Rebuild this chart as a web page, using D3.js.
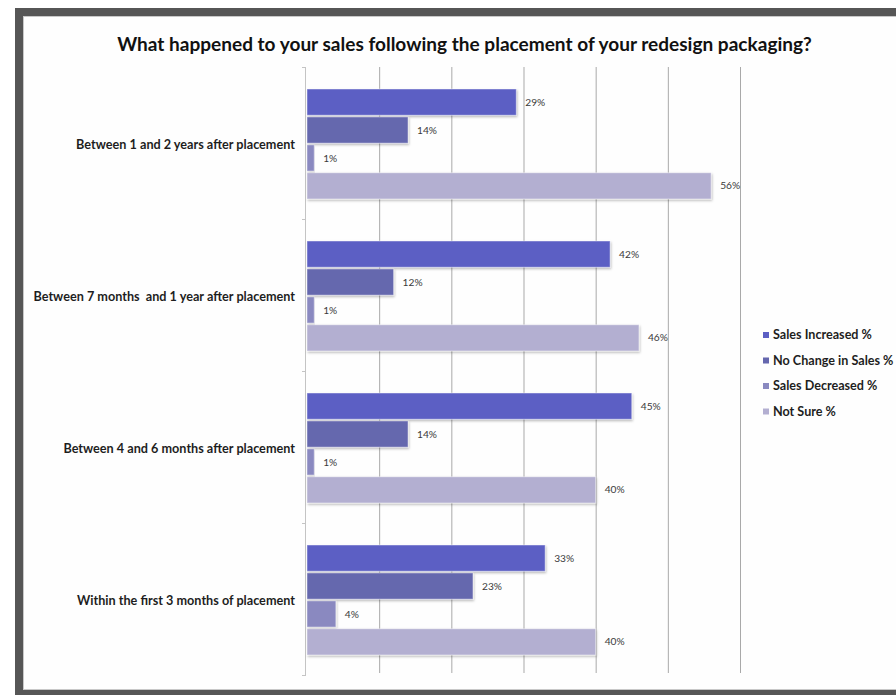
<!DOCTYPE html>
<html>
<head>
<meta charset="utf-8">
<script src="https://cdn.jsdelivr.net/npm/d3@7/dist/d3.min.js"></script>
<style>
  html, body { margin: 0; padding: 0; background: #fff; }
  svg { display: block; }
  text { font-family: Lato, "Open Sans", "DejaVu Sans", sans-serif; }
</style>
</head>
<body>
<svg id="chart" width="896" height="695"></svg>
<script>
// ---- data ----
const title = "What happened to your sales following the placement of your redesign packaging?";
const categories = [
  "Between 1 and 2 years after placement",
  "Between 7 months  and 1 year after placement",
  "Between 4 and 6 months after placement",
  "Within the first 3 months of placement"
];
const seriesNames = ["Sales Increased %", "No Change in Sales %", "Sales Decreased %", "Not Sure %"];
const salesIncreased = [29, 42, 45, 33];
const noChange = [14, 12, 14, 23];
const salesDecreased = [1, 1, 1, 4];
const notSure = [56, 46, 40, 40];
const xTicks = [0, 10, 20, 30, 40, 50, 60];
const seriesColors = ["#5c5fc4", "#6567ae", "#8a89c0", "#b3afd1"];

const seriesValues = [salesIncreased, noChange, salesDecreased, notSure];

const svg = d3.select("#chart");
const W = 896, H = 695;

// ---- frame ----
svg.append("rect").attr("x", 0).attr("y", 0).attr("width", W).attr("height", H).attr("fill", "#fff");
svg.append("rect").attr("x", 15).attr("y", 8).attr("width", W + 20).attr("height", H).attr("fill", "#565656");
svg.append("rect").attr("x", 23).attr("y", 16).attr("width", W + 20).attr("height", 674).attr("fill", "#c8c8c8");
svg.append("rect").attr("x", 24).attr("y", 17).attr("width", W + 20).attr("height", 672).attr("fill", "#fefefe");

// ---- defs ----
const defs = svg.append("defs");
const f = defs.append("filter").attr("id", "shadow").attr("x", "-5%").attr("y", "-20%").attr("width", "115%").attr("height", "160%");
f.append("feDropShadow").attr("dx", 0.8).attr("dy", 1.5).attr("stdDeviation", 0.8)
  .attr("flood-color", "#000").attr("flood-opacity", 0.28);

// ---- scales ----
const x = d3.scaleLinear().domain([0, 60]).range([307, 740]);
const y = d3.scaleBand().domain(categories).range([67, 675]);
const yInner = d3.scaleBand().domain(seriesNames).range([22, 132]).paddingInner(0.06);

// ---- gridlines ----
const grid = svg.append("g");
grid.selectAll("line.grid").data(xTicks.slice(1)).join("line")
  .attr("class", "grid")
  .attr("x1", d => x(d) + 0.5).attr("x2", d => x(d) + 0.5)
  .attr("y1", 67).attr("y2", 673)
  .attr("stroke", "#a9a9a9").attr("stroke-width", 1);

// ---- y axis ----
const yAxis = d3.axisLeft(y).tickSize(0).tickFormat("");
const ya = svg.append("g").attr("transform", `translate(${x(0) - 1.5},0)`).call(yAxis);
ya.select(".domain").attr("stroke", "#c4c4c4").attr("d", `M0,67V675`);
// boundary ticks between categories
const boundaries = categories.map(c => y(c)).concat([y.range()[1]]);
svg.append("g").selectAll("line").data(boundaries).join("line")
  .attr("x1", x(0) - 5).attr("x2", x(0) - 1)
  .attr("y1", d => d + 0.5).attr("y2", d => d + 0.5)
  .attr("stroke", "#c4c4c4");

// ---- bars ----
const groups = svg.append("g").selectAll("g").data(categories).join("g")
  .attr("transform", c => `translate(0,${y(c)})`);

groups.each(function(c, ci) {
  const g = d3.select(this);
  const rows = seriesNames.map((s, si) => ({ s, si, v: seriesValues[si][ci] }));
  g.selectAll("rect").data(rows).join("rect")
    .attr("x", x(0))
    .attr("y", d => yInner(d.s))
    .attr("width", d => x(d.v) - x(0))
    .attr("height", yInner.bandwidth())
    .attr("fill", d => seriesColors[d.si])
    .attr("stroke", "rgba(255,255,255,0.45)")
    .attr("stroke-width", 1)
    .attr("filter", "url(#shadow)");
  g.selectAll("text.val").data(rows).join("text")
    .attr("class", "val")
    .attr("x", d => x(d.v) + 9)
    .attr("y", d => yInner(d.s) + yInner.bandwidth() / 2)
    .attr("dy", "0.35em")
    .attr("font-size", 9)
    .attr("fill", "#3a3a3a")
    .text(d => d.v + "%");
});

// ---- category labels ----
const catLabels = svg.append("g").selectAll("text").data(categories).join("text")
  .attr("x", 295)
  .attr("y", c => y(c) + y.bandwidth() / 2 + 2)
  .attr("dy", "0.35em")
  .attr("text-anchor", "end")
  .attr("font-weight", "bold")
  .attr("font-size", 11)
  .attr("fill", "#1e1e1e")
  .style("white-space", "pre")
  .attr("xml:space", "preserve")
  .text(c => c);

function fitSize(sel, base, target) {
  const w = sel.node().getComputedTextLength();
  return base * target / w;
}
const catSize = fitSize(catLabels.filter((d, i) => i === 0), 11, 219);
catLabels.attr("font-size", catSize);

// ---- title ----
const t = svg.append("text")
  .attr("x", 464.5).attr("y", 44).attr("dy", "0.35em")
  .attr("text-anchor", "middle")
  .attr("font-weight", "bold")
  .attr("font-size", 17)
  .attr("fill", "#111")
  .text(title);
t.attr("font-size", fitSize(t, 17, 695));

// ---- legend ----
const legend = svg.append("g");
const legY = [335, 360.5, 386, 411.5];
const li = legend.selectAll("g").data(seriesNames).join("g")
  .attr("transform", (d, i) => `translate(763,${legY[i]})`);
li.append("rect").attr("x", 0).attr("y", -3).attr("width", 6).attr("height", 6)
  .attr("fill", (d, i) => seriesColors[i]);
const lt = li.append("text").attr("x", 10).attr("y", 0).attr("dy", "0.35em")
  .attr("font-weight", "bold").attr("font-size", 11).attr("fill", "#1e1e1e")
  .text(d => d);
const legSize = fitSize(lt.filter((d, i) => i === 0), 11, 99);
lt.attr("font-size", legSize);

// value label fit
const vals = svg.selectAll("text.val");
const vs = fitSize(vals.filter((d, i) => i === 0), 9, 20);
vals.attr("font-size", vs);
</script>
</body>
</html>
